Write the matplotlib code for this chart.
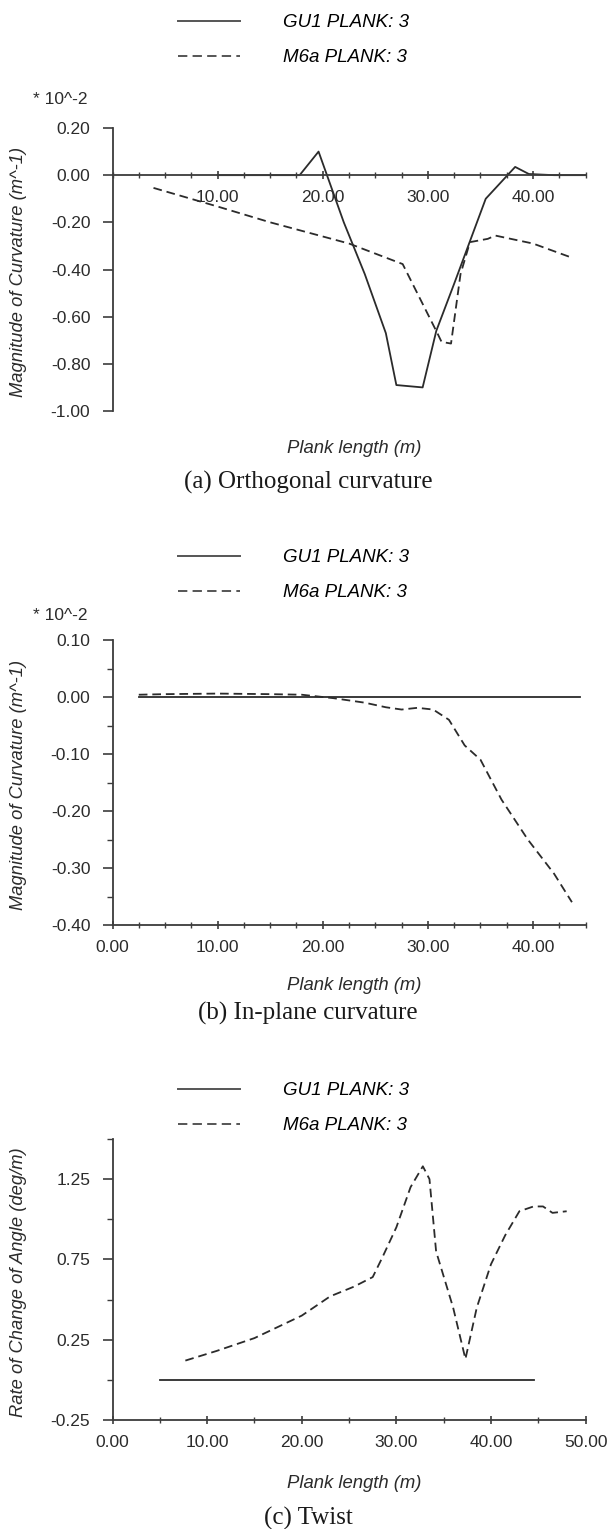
import matplotlib
matplotlib.use("Agg")
import matplotlib.pyplot as plt
from matplotlib.ticker import MultipleLocator, FixedLocator, FormatStrFormatter
from matplotlib.lines import Line2D

# (a) orthogonal curvature, units of 10^-2 m^-1
orth_gu1_x = [10, 17.8, 19.6, 20.4, 22.0, 24.0, 26.0, 27.0, 29.5, 30.8, 32.5, 34.0, 35.5, 38.3, 39.6, 42, 45]
orth_gu1_y = [0, 0, 0.10, 0.0, -0.20, -0.42, -0.67, -0.89, -0.90, -0.66, -0.46, -0.28, -0.10, 0.035, 0.005, 0.0, 0.0]
orth_m6a_x = [3.9, 10, 15, 22.5, 27.6, 30.9, 31.3, 32.2, 33.1, 34.0, 35.7, 36.4, 40, 43.7]
orth_m6a_y = [-0.054, -0.133, -0.20, -0.29, -0.377, -0.67, -0.707, -0.714, -0.42, -0.284, -0.27, -0.256, -0.29, -0.35]

# (b) in-plane curvature, units of 10^-2 m^-1
inpl_gu1_x = [2.5, 44.5]
inpl_gu1_y = [0.0, 0.0]
inpl_m6a_x = [2.5, 5, 10, 15, 18, 21, 24, 26, 27.5, 29, 30.5, 32, 33.5, 35, 37, 39.5, 42, 43.7]
inpl_m6a_y = [0.004, 0.005, 0.006, 0.005, 0.004, -0.002, -0.010, -0.018, -0.022, -0.019, -0.022, -0.04, -0.085, -0.11, -0.18, -0.25, -0.31, -0.36]

# (c) twist, deg/m
twist_gu1_x = [5, 44.5]
twist_gu1_y = [0.0, 0.0]
twist_m6a_x = [7.7, 11, 15, 20, 23, 25.5, 27.5, 28.5, 30, 31.5, 32.8, 33.5, 34.2, 36, 37.3, 38.5, 40, 41.5, 43, 44.5, 45.5, 46.5, 48]
twist_m6a_y = [0.12, 0.18, 0.26, 0.40, 0.52, 0.58, 0.64, 0.76, 0.95, 1.20, 1.33, 1.25, 0.80, 0.45, 0.13, 0.45, 0.72, 0.90, 1.05, 1.08, 1.08, 1.04, 1.05]

series_names = ["GU1 PLANK: 3", "M6a PLANK: 3"]
captions = ["(a) Orthogonal curvature", "(b) In-plane curvature", "(c) Twist"]

W, H = 608, 1529
fig = plt.figure(figsize=(W / 100, H / 100), dpi=100)

ink = "#2b2b2b"
axis_col = "#3c3c3c"
sans = "Liberation Sans"
serif = "Liberation Serif"
dash = (4.8, 2.7)


def px_axes(top, bottom, left=112.5, right=585.6):
    return fig.add_axes([left / W, 1 - bottom / H, (right - left) / W, (bottom - top) / H])


def style(ax):
    for s in ("top", "right"):
        ax.spines[s].set_visible(False)
    for s in ("left", "bottom"):
        ax.spines[s].set_color(axis_col)
        ax.spines[s].set_linewidth(1.3)
    ax.tick_params(axis="y", which="major", direction="out", length=7, width=1.2,
                   color=axis_col, pad=9, labelsize=12.5, labelcolor=ink)
    ax.tick_params(axis="y", which="minor", direction="out", length=4, width=1.0, color=axis_col)
    ax.tick_params(axis="x", which="major", direction="inout", length=6, width=1.2,
                   color=axis_col, pad=8, labelsize=12.5, labelcolor=ink)
    ax.tick_params(axis="x", which="minor", direction="inout", length=4, width=1.0, color=axis_col)
    for lab in ax.get_xticklabels() + ax.get_yticklabels():
        lab.set_fontfamily(sans)
    ax.xaxis.set_major_formatter(FormatStrFormatter("%.2f"))
    ax.yaxis.set_major_formatter(FormatStrFormatter("%.2f"))


def legend(row_top):
    handles = [Line2D([], [], color="#555555", lw=1.4),
               Line2D([], [], color="#555555", lw=1.4, ls=(0, dash))]
    fig.legend(handles, series_names, loc="upper left",
               bbox_to_anchor=(178 / W, 1 - row_top / H), bbox_transform=fig.transFigure,
               frameon=False, borderpad=0, borderaxespad=0, handlelength=3.3,
               handletextpad=2.3, labelspacing=0.95,
               prop={"family": sans, "style": "italic", "size": 13.5})


def labels(ax, ylabel, xlab_y):
    ax.set_ylabel(ylabel, fontfamily=sans, fontstyle="italic", fontsize=13.2, color=ink)
    ax.yaxis.set_label_coords(-0.181, 0.49)
    ax.set_xlabel("Plank length (m)", fontfamily=sans, fontstyle="italic", fontsize=13.3, color=ink)
    ax.xaxis.set_label_coords(0.51, xlab_y)
    ax.xaxis.label.set_va("top")


# panel (a)
ax1 = px_axes(128, 411)
ax1.plot(orth_gu1_x, orth_gu1_y, color=ink, lw=1.3)
ax1.plot(orth_m6a_x, orth_m6a_y, color=ink, lw=1.3, ls=(0, dash))
ax1.set_xlim(0, 45)
ax1.set_ylim(-1.0, 0.2)
ax1.spines["bottom"].set_position(("data", 0))
ax1.xaxis.set_major_locator(FixedLocator([10, 20, 30, 40]))
ax1.xaxis.set_minor_locator(MultipleLocator(2.5))
ax1.yaxis.set_major_locator(MultipleLocator(0.2))
style(ax1)
labels(ax1, "Magnitude of Curvature (m^-1)", -0.1025)
legend(14)
fig.text(33 / W, 1 - 100 / H, "* 10^-2", fontfamily=sans, fontsize=12.5, color=ink, va="center")

# panel (b)
ax2 = px_axes(640, 925)
ax2.plot(inpl_gu1_x, inpl_gu1_y, color=ink, lw=1.3)
ax2.plot(inpl_m6a_x, inpl_m6a_y, color=ink, lw=1.3, ls=(0, dash))
ax2.set_xlim(0, 45)
ax2.set_ylim(-0.4, 0.1)
ax2.xaxis.set_major_locator(FixedLocator([0, 10, 20, 30, 40]))
ax2.xaxis.set_minor_locator(MultipleLocator(2.5))
ax2.yaxis.set_major_locator(MultipleLocator(0.1))
ax2.yaxis.set_minor_locator(MultipleLocator(0.05))
style(ax2)
labels(ax2, "Magnitude of Curvature (m^-1)", -0.182)
legend(549)
fig.text(33 / W, 1 - 615 / H, "* 10^-2", fontfamily=sans, fontsize=12.5, color=ink, va="center")

# panel (c)
ax3 = px_axes(1139, 1420)
ax3.plot(twist_gu1_x, twist_gu1_y, color=ink, lw=1.3)
ax3.plot(twist_m6a_x, twist_m6a_y, color=ink, lw=1.3, ls=(0, dash))
ax3.set_xlim(0, 50)
ax3.set_ylim(-0.25, 1.5)
ax3.xaxis.set_major_locator(MultipleLocator(10))
ax3.xaxis.set_minor_locator(MultipleLocator(5))
ax3.yaxis.set_major_locator(FixedLocator([-0.25, 0.25, 0.75, 1.25]))
ax3.yaxis.set_minor_locator(FixedLocator([0.0, 0.5, 1.0, 1.5]))
style(ax3)
labels(ax3, "Rate of Change of Angle (deg/m)", -0.196)
legend(1082)

for cap, yc in zip(captions, [482, 1013, 1518]):
    fig.text(308 / W, 1 - yc / H, cap, fontfamily=serif, fontsize=18, color="#1a1a1a",
             ha="center", va="center")

fig.savefig("out.png", dpi=100)
